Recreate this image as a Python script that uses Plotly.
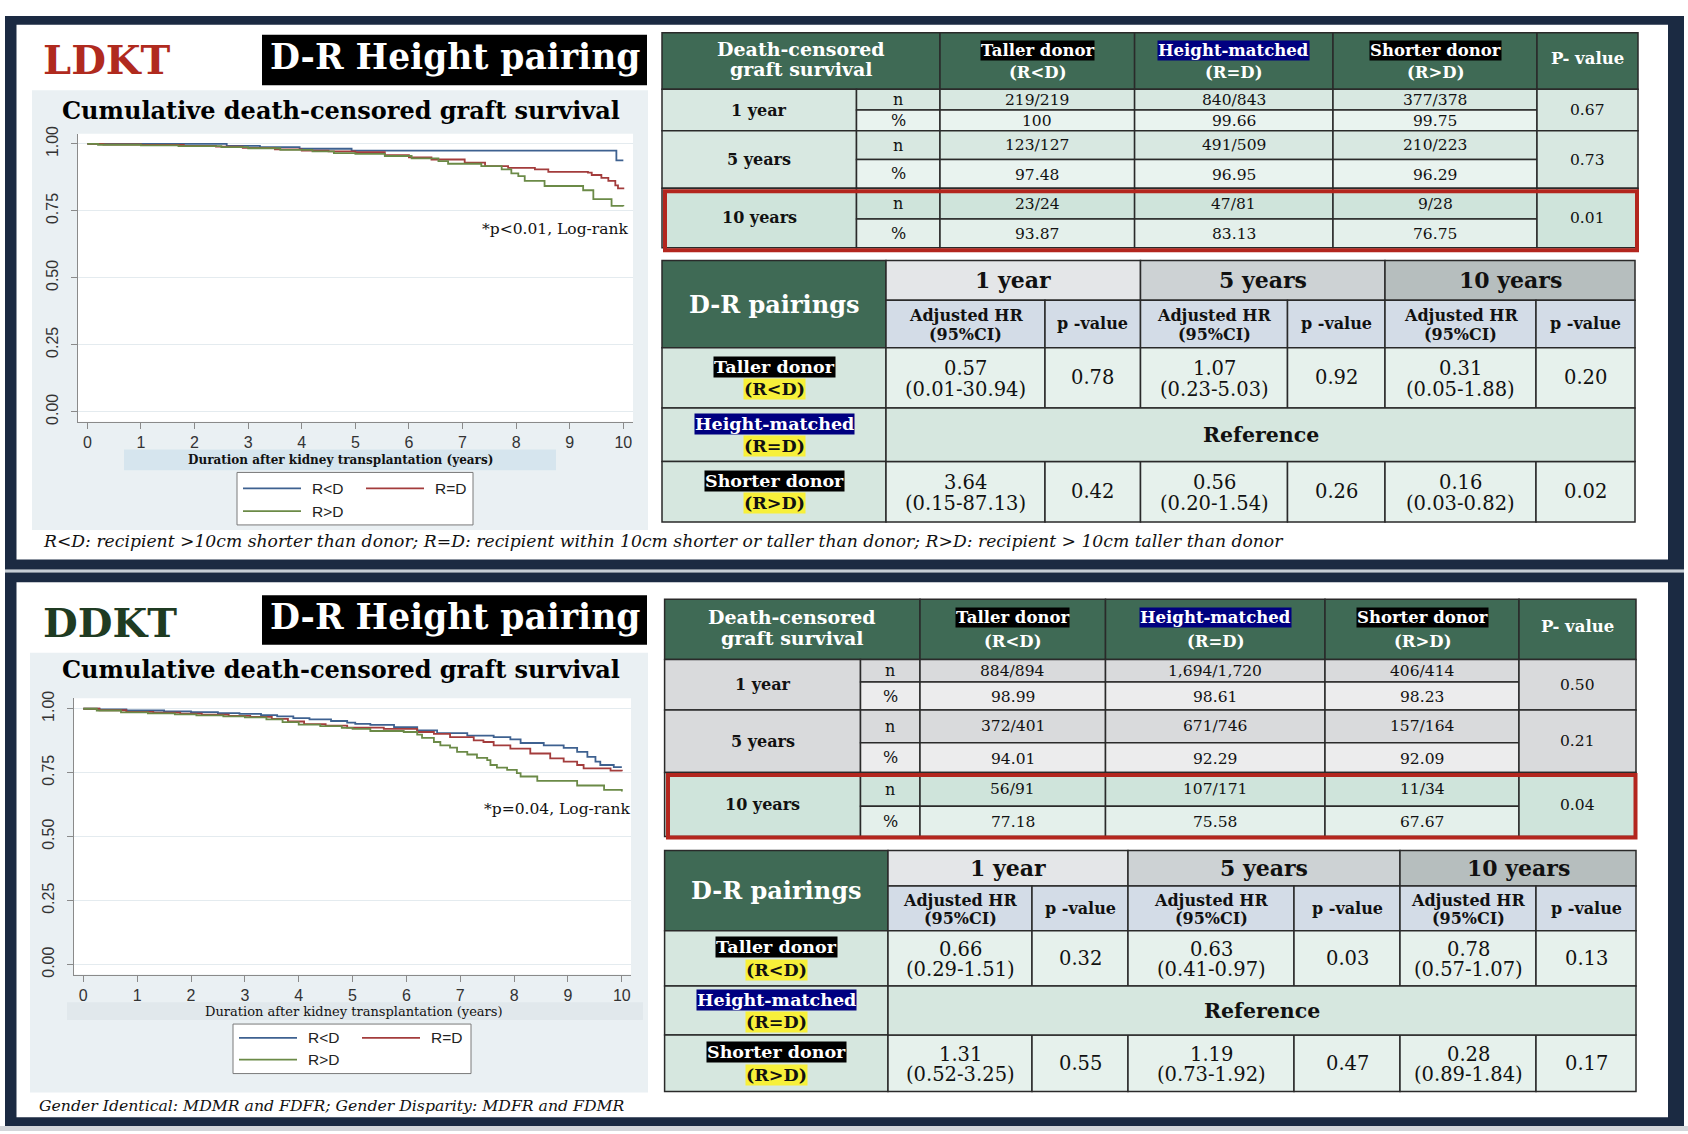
import plotly.graph_objects as go

W, H = 1688, 1134
SERIF = "DejaVu Serif"
SANS = "Liberation Sans, Arial, sans-serif"

# ---------------- Kaplan-Meier data (years, survival) ----------------
series_names = ["R<D", "R=D", "R>D"]
series_colors = ["#3e6190", "#a33c3c", "#6b8a47"]
x_ticks = [0, 1, 2, 3, 4, 5, 6, 7, 8, 9, 10]
y_ticks = [0.0, 0.25, 0.5, 0.75, 1.0]
y_ticktext = ["0.00", "0.25", "0.50", "0.75", "1.00"]

ld_rltd_time = [0, 2.6, 3.22, 3.96, 4.93, 9.87, 10.0]
ld_rltd_surv = [1.0, 0.993, 0.988, 0.982, 0.975, 0.939, 0.939]
ld_reqd_time = [0, 0.3, 1.0, 1.8, 2.4, 2.9, 3.5, 4.0, 4.5, 5.0, 5.55, 6.0, 6.42, 7.04, 7.42, 7.85,
                8.35, 8.6, 9.34, 9.41, 9.59, 9.72, 9.85, 9.9, 10.0]
ld_reqd_surv = [1.0, 0.998, 0.996, 0.993, 0.99, 0.985, 0.98, 0.975, 0.972, 0.969, 0.958, 0.95, 0.942,
                0.93, 0.917, 0.911, 0.905, 0.896, 0.893, 0.884, 0.873, 0.862, 0.845, 0.834, 0.831]
ld_rgtd_time = [0, 0.2, 1.0, 1.7, 2.5, 3.0, 3.6, 4.2, 4.6, 5.0, 5.55, 6.05, 6.55, 6.73, 7.35, 7.73,
                7.91, 8.04, 8.16, 8.53, 9.25, 9.44, 9.78, 10.0]
ld_rgtd_surv = [1.0, 0.997, 0.995, 0.992, 0.988, 0.984, 0.978, 0.972, 0.966, 0.963, 0.955, 0.946,
                0.936, 0.926, 0.917, 0.905, 0.890, 0.880, 0.862, 0.843, 0.827, 0.794, 0.769, 0.7675]

dd_rltd_time = [0, 0.3, 0.8, 1.5, 2.0, 2.5, 2.9, 3.3, 3.6, 3.9, 4.2, 4.6, 4.9, 5.05, 5.33, 5.77, 6.2,
                6.57, 7.13, 7.62, 7.93, 8.12, 8.55, 8.92, 9.17, 9.36, 9.51, 9.60, 9.85, 10.0]
dd_rltd_surv = [1.0, 0.997, 0.993, 0.990, 0.987, 0.983, 0.980, 0.975, 0.970, 0.963, 0.958, 0.952,
                0.946, 0.941, 0.937, 0.928, 0.915, 0.905, 0.895, 0.889, 0.880, 0.866, 0.857, 0.847,
                0.831, 0.812, 0.793, 0.780, 0.7718, 0.7718]
dd_reqd_time = [0, 0.3, 0.8, 1.3, 1.8, 2.2, 2.7, 3.1, 3.5, 3.8, 4.1, 4.5, 4.9, 5.58, 6.2, 6.51, 6.81,
                7.25, 7.43, 7.62, 7.93, 8.3, 8.67, 8.92, 9.17, 9.29, 9.79, 10.0]
dd_reqd_surv = [1.0, 0.994, 0.988, 0.985, 0.981, 0.977, 0.972, 0.968, 0.960, 0.950, 0.940, 0.934,
                0.926, 0.921, 0.909, 0.902, 0.889, 0.876, 0.870, 0.857, 0.844, 0.825, 0.806, 0.793,
                0.780, 0.767, 0.758, 0.7558]
dd_rgtd_time = [0, 0.25, 0.7, 1.2, 1.7, 2.1, 2.6, 3.0, 3.4, 3.7, 4.0, 4.4, 4.8, 5.0, 5.33, 5.95, 6.2,
                6.29, 6.51, 6.63, 6.81, 6.94, 7.13, 7.31, 7.5, 7.56, 7.68, 7.87, 8.05, 8.12, 8.43,
                9.17, 9.67, 10.0]
dd_rgtd_surv = [1.0, 0.993, 0.986, 0.982, 0.978, 0.974, 0.970, 0.966, 0.958, 0.948, 0.938, 0.932,
                0.925, 0.921, 0.913, 0.909, 0.899, 0.886, 0.870, 0.857, 0.848, 0.831, 0.821, 0.808,
                0.799, 0.780, 0.770, 0.761, 0.748, 0.735, 0.718, 0.700, 0.683, 0.6767]

# ---------------- table data ----------------
groups = ["1 year", "5 years", "10 years"]
col_heads = [("Taller donor", "(R<D)"), ("Height-matched", "(R=D)"), ("Shorter donor", "(R>D)")]
ld_n = [["219/219", "840/843", "377/378"], ["123/127", "491/509", "210/223"], ["23/24", "47/81", "9/28"]]
ld_pct = [["100", "99.66", "99.75"], ["97.48", "96.95", "96.29"], ["93.87", "83.13", "76.75"]]
ld_p = ["0.67", "0.73", "0.01"]
dd_n = [["884/894", "1,694/1,720", "406/414"], ["372/401", "671/746", "157/164"], ["56/91", "107/171", "11/34"]]
dd_pct = [["98.99", "98.61", "98.23"], ["94.01", "92.29", "92.09"], ["77.18", "75.58", "67.67"]]
dd_p = ["0.50", "0.21", "0.04"]

ld_hr_taller = [("0.57", "(0.01-30.94)", "0.78"), ("1.07", "(0.23-5.03)", "0.92"), ("0.31", "(0.05-1.88)", "0.20")]
ld_hr_shorter = [("3.64", "(0.15-87.13)", "0.42"), ("0.56", "(0.20-1.54)", "0.26"), ("0.16", "(0.03-0.82)", "0.02")]
dd_hr_taller = [("0.66", "(0.29-1.51)", "0.32"), ("0.63", "(0.41-0.97)", "0.03"), ("0.78", "(0.57-1.07)", "0.13")]
dd_hr_shorter = [("1.31", "(0.52-3.25)", "0.55"), ("1.19", "(0.73-1.92)", "0.47"), ("0.28", "(0.89-1.84)", "0.17")]

ld_note = "R<D: recipient >10cm shorter than donor; R=D: recipient within 10cm shorter or taller than donor; R>D: recipient > 10cm taller than donor"
dd_note = "Gender Identical: MDMR and FDFR; Gender Disparity: MDFR and FDMR"

# ---------------- helpers ----------------
def X(p):
    return p / W


def Y(p):
    return 1 - p / H


def esc(s):
    return s.replace("<", "&lt;").replace(">", "&gt;")


shapes = []
ann = []


def rect(x0, y0, x1, y1, fill, line=None, lw=0, layer="below"):
    shapes.append(dict(type="rect", xref="paper", yref="paper", x0=X(x0), x1=X(x1), y0=Y(y1), y1=Y(y0),
                       fillcolor=fill, line=dict(color=line or "rgba(0,0,0,0)", width=lw), layer=layer))


def hline(x0, x1, y, color, lw):
    shapes.append(dict(type="line", xref="paper", yref="paper", x0=X(x0), x1=X(x1), y0=Y(y), y1=Y(y),
                       line=dict(color=color, width=lw), layer="below"))


def text(x, y, s, size, color="#111", family=SERIF, bold=False, italic=False, xanchor="center", bg=None, pad=0):
    t = esc(s)
    if bold:
        t = "<b>" + t + "</b>"
    if italic:
        t = "<i>" + t + "</i>"
    d = dict(x=X(x), y=Y(y), xref="paper", yref="paper", text=t, showarrow=False, xanchor=xanchor,
             yanchor="middle", font=dict(family=family, size=size, color=color), borderpad=pad)
    if bg:
        d["bgcolor"] = bg
    ann.append(d)


FRAME = "#1b2a42"
GREEN_HDR = "#3f6a55"
BORDER = "#2a2a2a"
RED = "#b3261e"
NAVY = "#000080"
YELLOW = "#f7f03a"

# ---------------- frames ----------------
rect(0, 1129, W, H, "#d3d6da")
rect(5, 567, 1684, 570, "#c7ced6")
rect(5, 8, 1684, 567, FRAME)
rect(16.5, 17, 1668, 557, "white")
rect(5, 570, 1684, 1129, FRAME)
rect(16.5, 580, 1668, 1120, "white")

fig = go.Figure()


# ---------------- KM panels ----------------
def km_panel(idx, label, label_color, box_y, title_y, panel, plot, p_text, p_xy, xt_box, xt_bold, xt_fill,
             leg_box, leg_rows, note, note_xy, curves, xr, yr):
    ax = "" if idx == 1 else str(idx)
    text(42, box_y[2], label, 40, color=label_color, bold=True, xanchor="left")
    rect(262, box_y[0], 647, box_y[1], "black")
    text(454.5, box_y[3], "D-R Height pairing", 34.5, color="white", bold=True)
    rect(panel[0], panel[1], panel[2], panel[3], "#eaf0f3")
    text(340.5, title_y, "Cumulative death-censored graft survival", 24, color="black", bold=True)
    rect(plot[0], plot[1], plot[2], plot[3], "white")
    rect(xt_box[0], xt_box[1], xt_box[2], xt_box[3], xt_fill)
    text((xt_box[0] + xt_box[2]) / 2 if xt_bold else 354, (xt_box[1] + xt_box[3]) / 2,
         "Duration after kidney transplantation (years)", 12 if xt_bold else 13, color="#111", bold=xt_bold)
    text(p_xy[0], p_xy[1], p_text, 15.5, color="#111", xanchor="right")
    # legend
    rect(leg_box[0], leg_box[1], leg_box[2], leg_box[3], "white", line="#7a7a7a", lw=1)
    pos = [(leg_box[0] + 6, leg_rows[0]), (leg_box[0] + 129, leg_rows[0]), (leg_box[0] + 6, leg_rows[1])]
    for (lx, ly), nm, col in zip(pos, series_names, series_colors):
        hline(lx, lx + 58, ly, col, 1.8)
        text(lx + 68, ly, nm, 15.5, color="#222", family=SANS, xanchor="left")
    text(note_xy[0], note_xy[1], note, note_xy[2], color="#111", italic=True, xanchor="left")

    for (tt, ss), nm, col in zip(curves, series_names, series_colors):
        fig.add_trace(go.Scatter(x=tt, y=ss, mode="lines", line=dict(color=col, width=1.8, shape="hv"),
                                 name=esc(nm), showlegend=False, xaxis="x" + ax, yaxis="y" + ax,
                                 hoverinfo="skip"))
    axis_common = dict(showline=True, linecolor="#8a8a8a", linewidth=1.2, ticks="outside",
                       tickcolor="#8a8a8a", ticklen=6, tickfont=dict(family=SANS, size=16, color="#333"),
                       zeroline=False, fixedrange=True)
    fig.layout["xaxis" + ax] = dict(domain=[X(plot[0]), X(plot[2])], range=xr, anchor="y" + ax,
                                    tickvals=x_ticks, showgrid=False, **axis_common)
    fig.layout["yaxis" + ax] = dict(domain=[Y(plot[3]), Y(plot[1])], range=yr, anchor="x" + ax,
                                    tickvals=y_ticks, ticktext=y_ticktext, tickangle=-90,
                                    showgrid=True, gridcolor="#e4ebef", gridwidth=1.2,
                                    ticklabelstandoff=6, **axis_common)


km_panel(1, "LDKT", "#b02a1e", (27, 78, 52.5, 49), 103, (32, 83, 648, 527), (77.7, 127, 633, 417.7),
         "*p<0.01, Log-rank", (629, 223), (124, 445.7, 556, 466.7), True, "#d6e5ee",
         (237, 469, 473, 522), (485, 508), ld_note, (42, 538, 17.2),
         [(ld_rltd_time, ld_rltd_surv), (ld_reqd_time, ld_reqd_surv), (ld_rgtd_time, ld_rgtd_surv)],
         [-0.18, 10.18], [-0.037, 1.038])
km_panel(2, "DDKT", "#1f3b22", (593, 643, 620.5, 614.5), 668, (30, 651, 648, 1095), (73.6, 697, 631, 976),
         "*p=0.04, Log-rank", (631, 809), (67, 1004, 643, 1022), False, "#e1e8ec",
         (233, 1026, 471, 1076), (1040, 1062), dd_note, (38, 1108, 15.7),
         [(dd_rltd_time, dd_rltd_surv), (dd_reqd_time, dd_reqd_surv), (dd_rgtd_time, dd_rgtd_surv)],
         [-0.18, 10.17], [-0.039, 1.041])


# ---------------- survival table ----------------
def surv_table(xs, ys, n, pct, pv, label_fill, n_fill, pct_fill, red_box):
    h = ys[1] - ys[0]
    rect(xs[0], ys[0], xs[2], ys[1], GREEN_HDR, BORDER, 1.5)
    text((xs[0] + xs[2]) / 2, ys[0] + 0.29 * h, "Death-censored", 19, color="white", bold=True)
    text((xs[0] + xs[2]) / 2, ys[0] + 0.64 * h, "graft survival", 19, color="white", bold=True)
    hl = ["black", NAVY, "black"]
    for c in range(3):
        rect(xs[2 + c], ys[0], xs[3 + c], ys[1], GREEN_HDR, BORDER, 1.5)
        cx = (xs[2 + c] + xs[3 + c]) / 2
        text(cx, ys[0] + 0.31 * h, col_heads[c][0], 16.5, color="white", bold=True, bg=hl[c], pad=0)
        text(cx, ys[0] + 0.70 * h, col_heads[c][1], 16.5, color="white", bold=True)
    rect(xs[5], ys[0], xs[6], ys[1], GREEN_HDR, BORDER, 1.5)
    text((xs[5] + xs[6]) / 2, ys[0] + 0.45 * h, "P- value", 16.5, color="white", bold=True)
    for g in range(3):
        top, mid, bot = ys[1 + 2 * g], ys[2 + 2 * g], ys[3 + 2 * g]
        rect(xs[0], top, xs[1], bot, label_fill[g], BORDER, 1.5)
        text((xs[0] + xs[1]) / 2, (top + bot) / 2, groups[g], 16, color="#111", bold=True)
        rect(xs[1], top, xs[2], mid, n_fill[g], BORDER, 1.5)
        rect(xs[1], mid, xs[2], bot, pct_fill[g], BORDER, 1.5)
        text((xs[1] + xs[2]) / 2, (top + mid) / 2, "n", 16, color="#111")
        text((xs[1] + xs[2]) / 2, (mid + bot) / 2, "%", 16, color="#111")
        for c in range(3):
            rect(xs[2 + c], top, xs[3 + c], mid, n_fill[g], BORDER, 1.5)
            rect(xs[2 + c], mid, xs[3 + c], bot, pct_fill[g], BORDER, 1.5)
            cx = (xs[2 + c] + xs[3 + c]) / 2
            text(cx, (top + mid) / 2, n[g][c], 15.5, color="#111")
            text(cx, (mid + bot) / 2 + 1, pct[g][c], 15.5, color="#111")
        rect(xs[5], top, xs[6], bot, label_fill[g], BORDER, 1.5)
        text((xs[5] + xs[6]) / 2, (top + bot) / 2, pv[g], 15.5, color="#111")
    rect(red_box[0], red_box[1], red_box[2], red_box[3], "rgba(0,0,0,0)", RED, 4, layer="above")


MINT_L, MINT_N, MINT_P = "#d8e8e1", "#d8e8e1", "#e9f3ef"
MINT10_L, MINT10_N, MINT10_P = "#cfe4db", "#cfe4db", "#e4f0eb"
GRAY_L, GRAY_N, GRAY_P = "#d9dadc", "#d9dadc", "#ececed"

surv_table([662, 856.5, 940, 1134.6, 1333, 1537, 1638], [25, 82, 103, 124, 153, 182, 213, 242],
           ld_n, ld_pct, ld_p, [MINT_L, MINT_L, MINT10_L], [MINT_N, MINT_N, MINT10_N],
           [MINT_P, MINT_P, MINT10_P], (665, 185, 1637, 244.5))
surv_table([664.6, 860.5, 920, 1105.5, 1325, 1519, 1636], [597, 658, 680.7, 709, 742, 772, 806, 836.7],
           dd_n, dd_pct, dd_p, [GRAY_L, GRAY_L, MINT10_L], [GRAY_N, GRAY_N, MINT10_N],
           [GRAY_P, GRAY_P, MINT10_P], (668, 774.5, 1635.5, 837.5))


# ---------------- hazard-ratio table ----------------
def hr_table(xs, ys, taller, shorter):
    rect(xs[0], ys[0], xs[1], ys[2], GREEN_HDR, BORDER, 1.5)
    text((xs[0] + xs[1]) / 2, (ys[0] + ys[2]) / 2, "D-R pairings", 24, color="white", bold=True)
    yfills = ["#e4e6e8", "#cdd2d4", "#b6bebe"]
    for k in range(3):
        x0, x1 = xs[1 + 2 * k], xs[3 + 2 * k]
        rect(x0, ys[0], x1, ys[1], yfills[k], BORDER, 1.5)
        text((x0 + x1) / 2, (ys[0] + ys[1]) / 2, groups[k], 22, color="#111", bold=True)
    for i in range(6):
        x0, x1 = xs[1 + i], xs[2 + i]
        rect(x0, ys[1], x1, ys[2], "#d3dce7", BORDER, 1.5)
        if i % 2 == 0:
            hh = ys[2] - ys[1]
            text((x0 + x1) / 2, ys[1] + 0.32 * hh, "Adjusted HR", 16, color="#111", bold=True)
            text((x0 + x1) / 2, ys[1] + 0.72 * hh, "(95%CI)", 16, color="#111", bold=True)
        else:
            text((x0 + x1) / 2, (ys[1] + ys[2]) / 2, "p -value", 16, color="#111", bold=True)
    labels = [("Taller donor", "(R<D)", "black"), ("Height-matched", "(R=D)", NAVY), ("Shorter donor", "(R>D)", "black")]
    for r in range(3):
        top, bot = ys[2 + r], ys[3 + r]
        mid = (top + bot) / 2
        rect(xs[0], top, xs[1], bot, "#d6e7df", BORDER, 1.5)
        cx = (xs[0] + xs[1]) / 2
        text(cx, mid - 11, labels[r][0], 17.5, color="white", bold=True, bg=labels[r][2], pad=0)
        text(cx, mid + 11.5, labels[r][1], 17.5, color="#111", bold=True, bg=YELLOW, pad=0)
    # taller & shorter rows
    for r, vals in ((0, taller), (2, shorter)):
        top, bot = ys[2 + r], ys[3 + r]
        hh = bot - top
        for k in range(3):
            xa, xb, xc = xs[1 + 2 * k], xs[2 + 2 * k], xs[3 + 2 * k]
            rect(xa, top, xb, bot, "#e6f1ec", BORDER, 1.5)
            rect(xb, top, xc, bot, "#e6f1ec", BORDER, 1.5)
            text((xa + xb) / 2, top + 0.34 * hh, vals[k][0], 19.5, color="#111")
            text((xa + xb) / 2, top + 0.70 * hh, vals[k][1], 19.5, color="#111")
            text((xb + xc) / 2, (top + bot) / 2, vals[k][2], 19.5, color="#111")
    rect(xs[1], ys[3], xs[7], ys[4], "#d6e7df", BORDER, 1.5)
    text((xs[1] + xs[7]) / 2, (ys[3] + ys[4]) / 2, "Reference", 20.5, color="#111", bold=True)


hr_table([662, 886, 1045, 1140.5, 1287.5, 1385, 1536, 1635], [255, 295, 343, 404, 458, 519],
         ld_hr_taller, ld_hr_shorter)
hr_table([664.6, 888, 1032, 1128, 1294, 1400, 1536, 1636], [850.7, 886.7, 931.7, 987.7, 1037, 1094],
         dd_hr_taller, dd_hr_shorter)

fig.update_layout(width=W, height=H, margin=dict(l=0, r=0, t=0, b=0), paper_bgcolor="white",
                  plot_bgcolor="rgba(0,0,0,0)", shapes=shapes, annotations=ann, showlegend=False,
                  font=dict(family=SERIF))

fig.write_html("out.html", config={"displayModeBar": False},
               post_script="document.body.style.margin='0';document.body.style.overflow='hidden';")
